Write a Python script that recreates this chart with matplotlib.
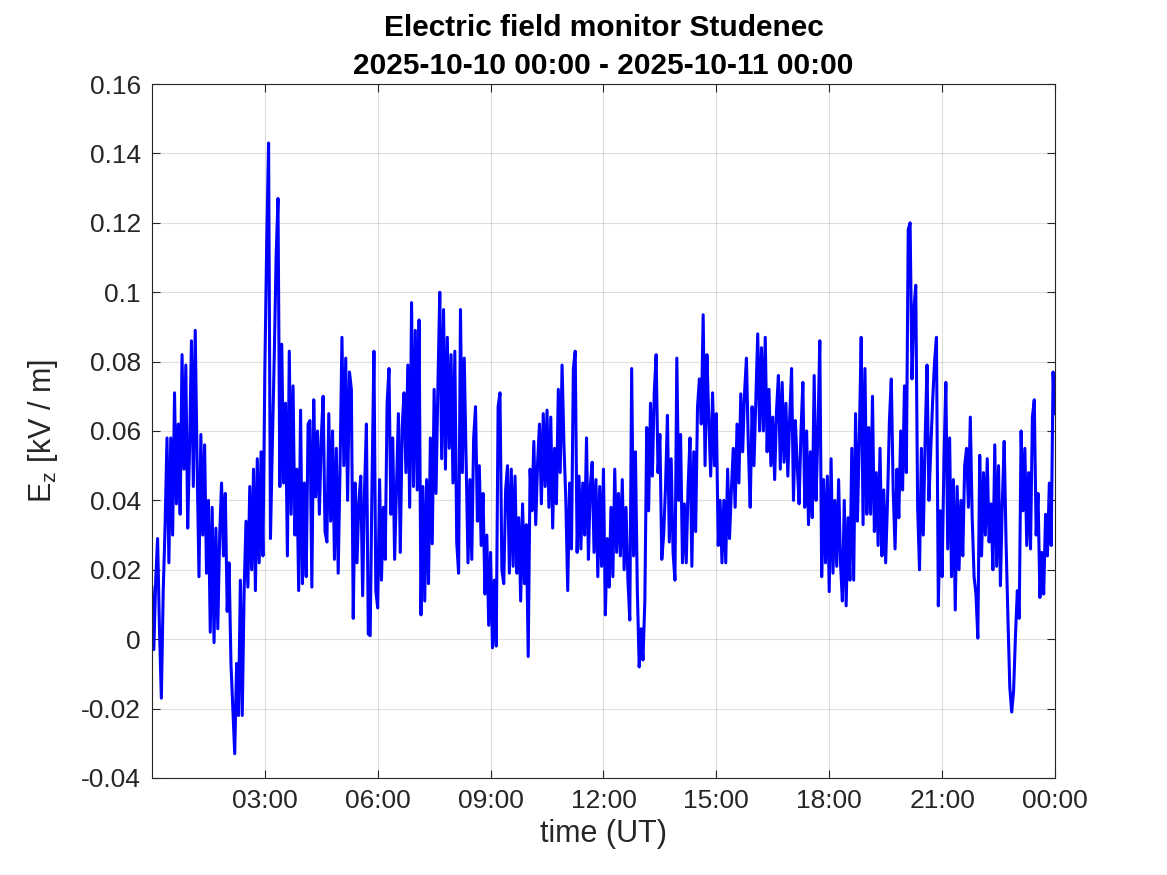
import matplotlib
matplotlib.use('Agg')
import matplotlib.pyplot as plt
import matplotlib.dates as mdates
import numpy as np
import pandas as pd

plt.rcParams['font.family'] = ['Liberation Sans', 'DejaVu Sans']

# Ez [kV/m], one value every 3 minutes in 3-hour blocks
ez_00_03 = [0.015, -0.003, 0.017, 0.029, 0.003, -0.017, 0.014, 0.033, 0.058, 0.022,
            0.058, 0.030, 0.071, 0.039, 0.062, 0.036, 0.082, 0.049, 0.079, 0.032,
            0.055, 0.086, 0.044, 0.089, 0.051, 0.018, 0.059, 0.030, 0.056, 0.019,
            0.040, 0.002, 0.038, -0.001, 0.032, 0.003, 0.030, 0.045, 0.024, 0.042,
            0.008, 0.022, -0.007, -0.020, -0.033, -0.007, -0.022, 0.017, -0.022, 0.014,
            0.034, 0.015, 0.044, 0.020, 0.049, 0.014, 0.052, 0.022, 0.054, 0.024]
ez_03_06 = [0.077, 0.114, 0.143, 0.029, 0.056, 0.081, 0.110, 0.127, 0.044, 0.085,
            0.045, 0.068, 0.024, 0.083, 0.036, 0.073, 0.030, 0.049, 0.014, 0.066,
            0.016, 0.045, 0.018, 0.062, 0.063, 0.015, 0.069, 0.041, 0.060, 0.036,
            0.058, 0.070, 0.031, 0.028, 0.065, 0.034, 0.060, 0.023, 0.055, 0.019,
            0.050, 0.087, 0.050, 0.081, 0.040, 0.077, 0.072, 0.006, 0.045, 0.022,
            0.040, 0.047, 0.0125, 0.043, 0.062, 0.0015, 0.001, 0.046, 0.083, 0.014]
ez_06_09 = [0.009, 0.046, 0.017, 0.038, 0.023, 0.068, 0.078, 0.036, 0.058, 0.023,
            0.044, 0.065, 0.025, 0.061, 0.071, 0.048, 0.079, 0.038, 0.097, 0.044,
            0.089, 0.043, 0.092, 0.007, 0.044, 0.011, 0.046, 0.016, 0.058, 0.0275,
            0.072, 0.042, 0.073, 0.100, 0.052, 0.095, 0.049, 0.087, 0.055, 0.082,
            0.045, 0.083, 0.028, 0.019, 0.095, 0.048, 0.081, 0.052, 0.022, 0.046,
            0.023, 0.058, 0.067, 0.034, 0.050, 0.027, 0.042, 0.013, 0.030, 0.004]
ez_09_12 = [0.025, -0.0025, 0.017, -0.002, 0.067, 0.071, 0.020, 0.016, 0.043, 0.050,
            0.019, 0.049, 0.021, 0.047, 0.019, 0.035, 0.011, 0.039, 0.016, 0.033,
            -0.005, 0.049, 0.037, 0.057, 0.033, 0.051, 0.062, 0.039, 0.065, 0.044,
            0.066, 0.038, 0.064, 0.032, 0.055, 0.039, 0.072, 0.048, 0.079, 0.056,
            0.040, 0.014, 0.045, 0.026, 0.078, 0.083, 0.025, 0.047, 0.026, 0.045,
            0.030, 0.058, 0.023, 0.044, 0.051, 0.025, 0.046, 0.018, 0.044, 0.021]
ez_12_15 = [0.049, 0.007, 0.029, 0.015, 0.038, 0.018, 0.049, 0.025, 0.042, 0.024,
            0.046, 0.020, 0.038, 0.017, 0.0055, 0.078, 0.024, 0.054, 0.014, -0.008,
            0.003, -0.006, 0.011, 0.061, 0.037, 0.068, 0.047, 0.071, 0.082, 0.048,
            0.059, 0.023, 0.030, 0.044, 0.0645, 0.028, 0.052, 0.025, 0.017, 0.081,
            0.040, 0.059, 0.022, 0.039, 0.022, 0.044, 0.058, 0.021, 0.054, 0.031,
            0.067, 0.075, 0.062, 0.0935, 0.050, 0.082, 0.063, 0.047, 0.071, 0.050]
ez_15_18 = [0.065, 0.027, 0.040, 0.022, 0.040, 0.022, 0.049, 0.029, 0.043, 0.055,
            0.038, 0.062, 0.045, 0.0707, 0.054, 0.071, 0.081, 0.056, 0.038, 0.067,
            0.050, 0.069, 0.088, 0.060, 0.084, 0.060, 0.087, 0.054, 0.072, 0.050,
            0.064, 0.046, 0.066, 0.076, 0.049, 0.074, 0.051, 0.068, 0.047, 0.064,
            0.078, 0.040, 0.063, 0.050, 0.039, 0.060, 0.074, 0.038, 0.060, 0.033,
            0.054, 0.035, 0.076, 0.040, 0.060, 0.086, 0.018, 0.046, 0.022, 0.047]
ez_18_21 = [0.0137, 0.052, 0.019, 0.040, 0.021, 0.046, 0.022, 0.011, 0.040, 0.0096,
            0.035, 0.017, 0.055, 0.017, 0.065, 0.034, 0.058, 0.087, 0.033, 0.078,
            0.036, 0.061, 0.036, 0.070, 0.031, 0.048, 0.027, 0.055, 0.024, 0.043,
            0.022, 0.040, 0.063, 0.075, 0.043, 0.026, 0.049, 0.035, 0.060, 0.043,
            0.073, 0.048, 0.118, 0.120, 0.075, 0.095, 0.102, 0.038, 0.020, 0.055,
            0.030, 0.058, 0.079, 0.040, 0.055, 0.069, 0.080, 0.087, 0.0096, 0.037]
ez_21_24 = [0.018, 0.052, 0.074, 0.026, 0.058, 0.018, 0.046, 0.0084, 0.044, 0.020,
            0.040, 0.024, 0.050, 0.055, 0.038, 0.064, 0.035, 0.018, 0.013, 0.0003,
            0.053, 0.024, 0.048, 0.030, 0.052, 0.028, 0.039, 0.020, 0.056, 0.021,
            0.050, 0.0154, 0.039, 0.057, 0.028, 0.006, -0.014, -0.021, -0.015, 0.001,
            0.014, 0.006, 0.060, 0.037, 0.055, 0.027, 0.048, 0.026, 0.064, 0.069,
            0.030, 0.042, 0.012, 0.025, 0.013, 0.036, 0.024, 0.045, 0.027, 0.077, 0.065]

ez = np.concatenate([ez_00_03, ez_03_06, ez_06_09, ez_09_12,
                     ez_12_15, ez_15_18, ez_18_21, ez_21_24])
t = pd.date_range('2025-10-10 00:00', '2025-10-11 00:00', freq='3min')

yticks = [-0.04, -0.02, 0, 0.02, 0.04, 0.06, 0.08, 0.1, 0.12, 0.14, 0.16]
ylabels = ['-0.04', '-0.02', '0', '0.02', '0.04', '0.06', '0.08', '0.1', '0.12', '0.14', '0.16']

dark = '#262626'
fig = plt.figure(figsize=(11.67, 8.75), dpi=100)
ax = fig.add_axes([0.1302, 0.1109, 0.7738, 0.7931])
ax.plot(t, ez, color=(0, 0, 1), lw=2.2)

ax.set_xlim(t[0], t[-1])
ax.set_ylim(-0.04, 0.16)
ax.set_xticks(t[60::60])
ax.xaxis.set_major_formatter(mdates.DateFormatter('%H:%M'))
ax.set_yticks(yticks)
ax.set_yticklabels(ylabels)

ax.grid(True, color=dark, alpha=0.15, lw=0.8)
ax.tick_params(direction='in', top=True, right=True, length=6, width=0.8,
               labelsize=19, colors=dark, pad=8)
for s in ax.spines.values():
    s.set_color(dark)
    s.set_linewidth(0.8)

ax.set_title('Electric field monitor Studenec\n2025-10-10 00:00 - 2025-10-11 00:00',
             fontsize=21.5, fontweight='bold', pad=7, linespacing=1.45)
ax.set_xlabel('time (UT)', fontsize=22, color=dark)
ax.set_ylabel(r'E$_\mathregular{z}$ [kV / m]', fontsize=22, color=dark, labelpad=15)

fig.savefig('out.png', dpi=100)
